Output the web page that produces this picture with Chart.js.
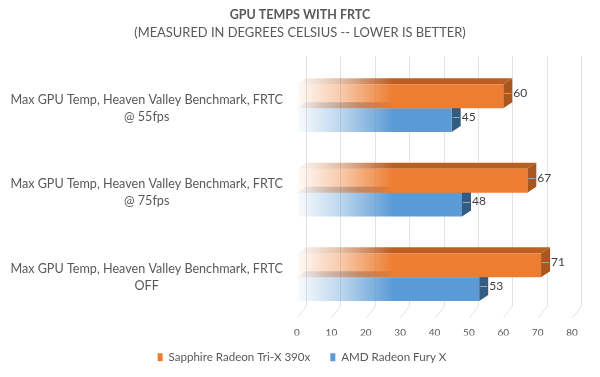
<!DOCTYPE html>
<html>
<head>
<meta charset="utf-8">
<script src="https://cdn.jsdelivr.net/npm/chart.js@4.4.0/dist/chart.umd.min.js"></script>
<style>
  html, body { margin: 0; padding: 0; background: #fff; }
  #wrap { width: 600px; height: 377px; }
</style>
</head>
<body>
<div id="wrap"><canvas id="grafico" width="600" height="377"></canvas></div>
<script>
// datos
const categorias = [
    ["Max GPU Temp, Heaven Valley Benchmark, FRTC", "@ 55fps"],
    ["Max GPU Temp, Heaven Valley Benchmark, FRTC", "@ 75fps"],
    ["Max GPU Temp, Heaven Valley Benchmark, FRTC", "OFF"]
];
const series = ["Sapphire Radeon Tri-X 390x", "AMD Radeon Fury X"];
const sapphire = [60, 67, 71];
const fury = [45, 48, 53];
const ticksX = [0, 10, 20, 30, 40, 50, 60, 70, 80];

// colores: frente, arriba, costado
const colores = [
    { frente: [237, 125, 49], arriba: [186, 94, 36], costado: [170, 86, 30] },
    { frente: [91, 155, 213], arriba: [58, 105, 150], costado: [50, 92, 132] }
];
const DX = 9, DY = 6;

function rgba(c, a) { return `rgba(${c[0]}, ${c[1]}, ${c[2]}, ${a})`; }

function degradado(chart, c) {
    const xs = chart.scales.x;
    if (!xs) return rgba(c, 1);
    const x0 = xs.getPixelForValue(0);
    const x1 = xs.getPixelForValue(28);
    const g = chart.ctx.createLinearGradient(x0, 0, x1, 0);
    g.addColorStop(0, rgba(c, 0.03));
    g.addColorStop(0.45, rgba(c, 0.4));
    g.addColorStop(1, rgba(c, 1));
    return g;
}

// pared del fondo, piso y caras 3D de las barras
const efecto3D = {
    id: 'efecto3D',
    afterUpdate(chart) {
        // titulos y leyenda centrados en todo el ancho, como en el original
        chart.boxes.filter(b => b.position === 'top').forEach(b => {
            b.left += 14;
            b.right += 14;
        });
        chart.legend.left += 16;
        chart.legend.right += 16;
        chart.legend.top -= 4;
        chart.legend.bottom -= 4;
    },
    beforeDatasetsDraw(chart) {
        const ctx = chart.ctx;
        const xs = chart.scales.x;
        const area = chart.chartArea;
        const paredArriba = area.top - 9.5;
        const paredAbajo = area.bottom - 13.5;
        const pisoFrente = area.bottom - 1.5;
        ctx.save();
        ctx.strokeStyle = '#e3e3e3';
        ctx.lineWidth = 1;
        ticksX.forEach(v => {
            const x = Math.round(xs.getPixelForValue(v)) + 0.5;
            ctx.beginPath();
            ctx.moveTo(x + DX, paredArriba);
            ctx.lineTo(x + DX, paredAbajo);
            ctx.lineTo(x, pisoFrente);
            ctx.stroke();
        });
        // caras superior y lateral (de abajo hacia arriba para que se tapen bien)
        for (let d = chart.data.datasets.length - 1; d >= 0; d--) {
            const meta = chart.getDatasetMeta(d);
            const c = colores[d];
            meta.data.forEach(bar => {
                const top = bar.y - bar.height / 2;
                const bottom = bar.y + bar.height / 2;
                const x0 = bar.base, x1 = bar.x;
                ctx.fillStyle = degradado(chart, c.arriba);
                ctx.beginPath();
                ctx.moveTo(x0, top);
                ctx.lineTo(x0 + DX, top - DY);
                ctx.lineTo(x1 + DX, top - DY);
                ctx.lineTo(x1, top);
                ctx.closePath();
                ctx.fill();
                ctx.fillStyle = rgba(c.costado, 1);
                ctx.beginPath();
                ctx.moveTo(x1, top);
                ctx.lineTo(x1 + DX, top - DY);
                ctx.lineTo(x1 + DX, bottom - DY);
                ctx.lineTo(x1, bottom);
                ctx.closePath();
                ctx.fill();
            });
        }
        ctx.restore();
    },
    afterDatasetsDraw(chart) {
        const ctx = chart.ctx;
        ctx.save();
        ctx.font = '12px Lato';
        ctx.fillStyle = '#404040';
        ctx.textBaseline = 'middle';
        ctx.textAlign = 'left';
        chart.data.datasets.forEach((ds, d) => {
            const meta = chart.getDatasetMeta(d);
            meta.data.forEach((bar, i) => {
                const y = bar.y - DY / 2;
                ctx.strokeStyle = '#a6a6a6';
                ctx.lineWidth = 1;
                ctx.beginPath();
                ctx.moveTo(bar.x + 1, Math.round(y) + 0.5);
                ctx.lineTo(bar.x + 8, Math.round(y) + 0.5);
                ctx.stroke();
                ctx.fillText(ds.data[i], bar.x + 10, y);
            });
        });
        ctx.restore();
    }
};

const ctx = document.getElementById('grafico').getContext('2d');
new Chart(ctx, {
    type: 'bar',
    data: {
        labels: categorias,
        datasets: [
            {
                label: series[0],
                data: sapphire,
                backgroundColor: c => degradado(c.chart, colores[0].frente),
                borderWidth: 0
            },
            {
                label: series[1],
                data: fury,
                backgroundColor: c => degradado(c.chart, colores[1].frente),
                borderWidth: 0
            }
        ]
    },
    options: {
        indexAxis: 'y',
        responsive: false,
        animation: false,
        categoryPercentage: 0.565,
        barPercentage: 1,
        layout: { padding: { left: 0, right: 28, top: 0, bottom: 0 } },
        plugins: {
            title: {
                display: true,
                text: 'GPU TEMPS WITH FRTC',
                color: '#595959',
                font: { family: 'Lato', size: 12.5, weight: 'bold' },
                padding: { top: 7, bottom: 3 }
            },
            subtitle: {
                display: true,
                text: '(MEASURED IN DEGREES CELSIUS -- LOWER IS BETTER)',
                color: '#595959',
                font: { family: 'Lato', size: 12.9 },
                padding: { top: 0, bottom: 25.5 }
            },
            legend: {
                position: 'bottom',
                labels: {
                    boxWidth: 5,
                    boxHeight: 8,
                    padding: 20,
                    color: '#595959',
                    font: { family: 'Lato', size: 11.6 },
                    generateLabels: chart => chart.data.datasets.map((d, i) => ({
                        text: d.label,
                        fillStyle: rgba(colores[i].frente, 1),
                        strokeStyle: rgba(colores[i].frente, 1),
                        lineWidth: 0,
                        fontColor: '#595959',
                        datasetIndex: i
                    }))
                }
            },
            tooltip: { enabled: false }
        },
        scales: {
            x: {
                min: 0,
                max: 80,
                grid: { display: false, drawTicks: false },
                border: { display: false },
                afterBuildTicks: s => { s.ticks = ticksX.map(v => ({ value: v })); },
                afterFit: s => { s.height = 16; },
                ticks: {
                    color: '#595959',
                    font: { family: 'Lato', size: 10 },
                    padding: 7.5,
                    maxRotation: 0
                }
            },
            y: {
                grid: { display: false, drawTicks: false },
                border: { display: false },
                afterFit: s => { s.width = 297; },
                ticks: {
                    crossAlign: 'center',
                    padding: 14,
                    color: '#595959',
                    font: { family: 'Lato', size: 12.6, lineHeight: 1.35 }
                }
            }
        }
    },
    plugins: [efecto3D]
});
</script>
</body>
</html>
